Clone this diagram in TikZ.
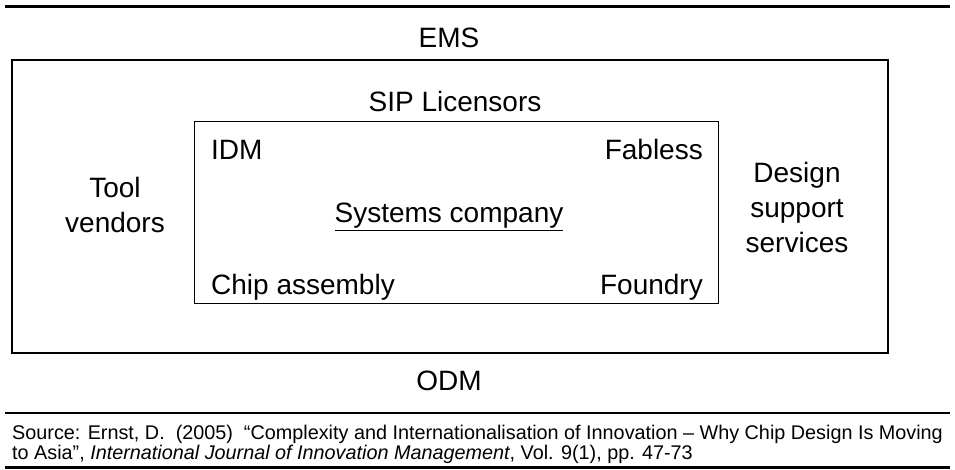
\documentclass[tikz,border=0pt]{standalone}
\usepackage{fontspec}
\setmainfont{Liberation Sans}
\begin{document}
\begin{tikzpicture}[x=1pt,y=1pt,
  big/.style={font=\fontsize{28}{35}\selectfont, inner sep=0pt, anchor=base, align=center},
  small/.style={font=\fontsize{19.8}{20}\selectfont, inner sep=0pt, align=left},
  rule/.style={draw=black}]
\useasboundingbox (0,0) rectangle (955,470);
% rules
\coordinate (tl) at (5,463); \coordinate (tr) at (950,463);
\draw[rule, line width=3pt] (tl) -- (tr);
\coordinate (ml) at (5,57); \coordinate (mr) at (950,57);
\draw[rule, line width=2pt] (ml) -- (mr);
\coordinate (bl) at (5,2.5); \coordinate (br) at (950,2.5);
\draw[rule, line width=3pt] (bl) -- (br);
% boxes
\node[draw, line width=1.2pt, minimum width=876pt, minimum height=293pt, inner sep=0pt] (outer) at (450,263.5) {};
\node[draw, line width=1pt, minimum width=524pt, minimum height=182pt, inner sep=0pt] (inner) at (456,257) {};
% labels
\node[big] (ems) at (449,422) {EMS};
\node[big] (sip) at (455,358) {SIP Licensors};
\node[big, anchor=base west] (idm) at (211,310) {IDM};
\node[big, anchor=base east] (fab) at (703,310) {Fabless};
\node[big] (sys) at (449,247) {\underline{Systems company}};
\node[big, anchor=base west] (chip) at (211,175) {Chip assembly};
\node[big, anchor=base east] (found) at (703,175) {Foundry};
\node[big] (tool) at (115,237) {Tool\\vendors};
\node[big] (dss) at (797,217) {Design\\support\\services};
\node[big] (odm) at (449,79) {ODM};
\node[small, anchor=base west] (src) at (12,10) {Source: Ernst, D.\ \ (2005)\ \ “Complexity and Internationalisation of Innovation – Why Chip Design Is Moving\\to Asia”, \textit{International Journal of Innovation Management}, Vol. 9(1), pp. 47-73};
\end{tikzpicture}
\end{document}
